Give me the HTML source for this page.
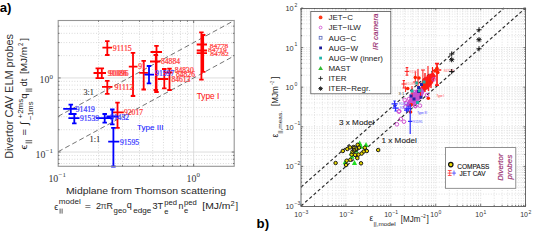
<!DOCTYPE html>
<html><head><meta charset="utf-8"><style>
html,body{margin:0;padding:0;background:#fff;width:533px;height:231px;overflow:hidden}
svg{position:absolute;left:0;top:0;font-family:"Liberation Sans",sans-serif}
</style></head><body>
<svg width="533" height="231" viewBox="0 0 533 231">
<rect width="533" height="231" fill="#fff"/>
<path d="M58.2,163.52H234.2M58.2,159.22H234.2M58.2,155.43H234.2M58.2,129.73H234.2M58.2,116.69H234.2M58.2,107.43H234.2M58.2,100.25H234.2M58.2,94.38H234.2M58.2,89.42H234.2M58.2,85.12H234.2M58.2,81.33H234.2M58.2,55.63H234.2M58.2,42.59H234.2M58.2,33.33H234.2M58.2,26.15H234.2M98.52,20.5V166.3M122.49,20.5V166.3M139.49,20.5V166.3M152.68,20.5V166.3M163.46,20.5V166.3M172.57,20.5V166.3M180.47,20.5V166.3M187.43,20.5V166.3" stroke="#c4c4c4" stroke-width="0.7" stroke-dasharray="0.9 1.8" fill="none"/>
<path d="M58.2,77.94H234.2M58.2,152.04H234.2M193.66,20.5V166.3" stroke="#d4d4d4" stroke-width="0.8" fill="none"/>
<path d="M58.20,151.68L234.20,55.87M58.20,116.33L234.20,20.52" stroke="#505050" stroke-width="0.8" stroke-dasharray="5 3" fill="none"/>
<path d="M107.3,41.2V55M102.4,47.7H112M105.05,41.2h4.5M105.05,55h4.5M97.8,68.3V78.2M93.5,73H104.7M95.55,68.3h4.5M95.55,78.2h4.5M101.8,68.3V78.2M96,73H106M99.55,68.3h4.5M99.55,78.2h4.5M107.3,80.8V93.8M102,86.8H112.5M105.05,80.8h4.5M105.05,93.8h4.5M133,52.8V96M128.8,66.6H137.5M130.75,52.8h4.5M130.75,96h4.5M143.7,60.8V89.5M139.2,72.9H147.9M141.45,60.8h4.5M141.45,89.5h4.5M156.5,45.9V92M150.5,52H162M154.25,45.9h4.5M154.25,92h4.5M155.8,55V90M150,61.5H160.4M153.55,55h4.5M153.55,90h4.5M164.3,69V88.4M157.8,79H168.2M162.05,69h4.5M162.05,88.4h4.5M169.5,68.6V90M165,72.5H172.7M167.25,68.6h4.5M167.25,90h4.5M201.4,32.3V79.7M196.7,44.5H207M199.15,32.3h4.5M199.15,79.7h4.5M203.2,35V71.9M196.7,50.5H207M200.95,35h4.5M200.95,71.9h4.5M196.7,53.1H207M117.5,102.6V127.9M112.3,112.3H123.8M115.25,102.6h4.5M115.25,127.9h4.5" stroke="#ff0000" stroke-width="1.8" fill="none"/>
<path d="M149,66V83.3M144.4,74.6H154M146.75,66h4.5M146.75,83.3h4.5M70.8,104.7V114M63.2,108.8H77M68.55,104.7h4.5M68.55,114h4.5M74.3,114V123.4M68.4,118.2H79.5M72.05,114h4.5M72.05,123.4h4.5M104.7,114V122.7M96,118.2H113.4M102.45,114h4.5M102.45,122.7h4.5M112.3,109.5V124.4M106.4,116.5H118.6M110.05,109.5h4.5M110.05,124.4h4.5M113.4,127.9V166.5M108.2,141.7H119.3M111.15,127.9h4.5M111.15,166.5h4.5" stroke="#0000ff" stroke-width="1.8" fill="none"/>
<text x="112.8" y="50.8" fill="#ff3a3a" font-family="Liberation Serif" font-size="7.5" textLength="19.0" lengthAdjust="spacingAndGlyphs" stroke="#ff3a3a" stroke-width="0.22">91115</text>
<text x="107.8" y="76.0" fill="#ff3a3a" font-family="Liberation Serif" font-size="7.5" textLength="19.0" lengthAdjust="spacingAndGlyphs" stroke="#ff3a3a" stroke-width="0.22">91086</text>
<text x="109.5" y="76.3" fill="#ff3a3a" font-family="Liberation Serif" font-size="7.5" textLength="19.0" lengthAdjust="spacingAndGlyphs" stroke="#ff3a3a" stroke-width="0.22">91096</text>
<text x="114.4" y="89.6" fill="#ff3a3a" font-family="Liberation Serif" font-size="7.5" textLength="19.0" lengthAdjust="spacingAndGlyphs" stroke="#ff3a3a" stroke-width="0.22">91112</text>
<text x="138.3" y="69.0" fill="#ff3a3a" font-family="Liberation Serif" font-size="7.5" textLength="7.6" lengthAdjust="spacingAndGlyphs" stroke="#ff3a3a" stroke-width="0.22">91</text>
<text x="161" y="63.8" fill="#ff3a3a" font-family="Liberation Serif" font-size="7.5" textLength="19.0" lengthAdjust="spacingAndGlyphs" stroke="#ff3a3a" stroke-width="0.22">84884</text>
<text x="174.7" y="73.2" fill="#ff3a3a" font-family="Liberation Serif" font-size="7.5" textLength="19.0" lengthAdjust="spacingAndGlyphs" stroke="#ff3a3a" stroke-width="0.22">84830</text>
<text x="176" y="76.8" fill="#ff3a3a" font-family="Liberation Serif" font-size="7.5" textLength="19.0" lengthAdjust="spacingAndGlyphs" stroke="#ff3a3a" stroke-width="0.22">84826</text>
<text x="171.4" y="82" fill="#ff3a3a" font-family="Liberation Serif" font-size="7.5" textLength="19.0" lengthAdjust="spacingAndGlyphs" stroke="#ff3a3a" stroke-width="0.22">84613</text>
<text x="209.8" y="47.5" fill="#ff3a3a" font-family="Liberation Serif" font-size="6.6" textLength="18.5" lengthAdjust="spacingAndGlyphs" stroke="#ff3a3a" stroke-width="0.22">84778</text>
<text x="207.9" y="51.8" fill="#ff3a3a" font-family="Liberation Serif" font-size="6.6" textLength="19" lengthAdjust="spacingAndGlyphs" stroke="#ff3a3a" stroke-width="0.22">84719</text>
<text x="210.2" y="56.1" fill="#ff3a3a" font-family="Liberation Serif" font-size="6.6" textLength="18.6" lengthAdjust="spacingAndGlyphs" stroke="#ff3a3a" stroke-width="0.22">84782</text>
<text x="124" y="114.5" fill="#ff3a3a" font-family="Liberation Serif" font-size="7.5" textLength="19.0" lengthAdjust="spacingAndGlyphs" stroke="#ff3a3a" stroke-width="0.22">92017</text>
<text x="155.2" y="76.4" fill="#3a3aff" font-family="Liberation Serif" font-size="7.5" textLength="19.0" lengthAdjust="spacingAndGlyphs" stroke="#3a3aff" stroke-width="0.22">91597</text>
<text x="75.8" y="111.6" fill="#3a3aff" font-family="Liberation Serif" font-size="7.5" textLength="19.0" lengthAdjust="spacingAndGlyphs" stroke="#3a3aff" stroke-width="0.22">91419</text>
<text x="80" y="121.2" fill="#3a3aff" font-family="Liberation Serif" font-size="7.5" textLength="19.0" lengthAdjust="spacingAndGlyphs" stroke="#3a3aff" stroke-width="0.22">91539</text>
<text x="110" y="120.0" fill="#3a3aff" font-family="Liberation Serif" font-size="7.5" textLength="19.0" lengthAdjust="spacingAndGlyphs" stroke="#3a3aff" stroke-width="0.22">91432</text>
<text x="120" y="144.6" fill="#3a3aff" font-family="Liberation Serif" font-size="7.5" textLength="19.0" lengthAdjust="spacingAndGlyphs" stroke="#3a3aff" stroke-width="0.22">91595</text>
<text x="83.5" y="95.1" fill="#1a1a1a" font-family="Liberation Serif" font-size="8.3" textLength="10.4" lengthAdjust="spacingAndGlyphs" stroke="#1a1a1a" stroke-width="0.05">3:1</text>
<text x="89.5" y="142.1" fill="#1a1a1a" font-family="Liberation Serif" font-size="8.3" textLength="10.8" lengthAdjust="spacingAndGlyphs" stroke="#1a1a1a" stroke-width="0.05">1:1</text>
<text x="196.7" y="99" fill="#ff2020" font-family="Liberation Sans" font-size="8.3" textLength="22.7" lengthAdjust="spacingAndGlyphs" stroke="#ff2020" stroke-width="0.08">Type I</text>
<text x="137.0" y="130.3" fill="#2020ff" font-family="Liberation Sans" font-size="8.1" textLength="26.6" lengthAdjust="spacingAndGlyphs" stroke="#2020ff" stroke-width="0.08">Type III</text>
<rect x="58.2" y="20.5" width="176.00" height="145.80" fill="none" stroke="#959595" stroke-width="1.1"/>
<path d="M58.2,152.04h2.5M234.2,152.04h-2.5M58.2,77.94h2.5M234.2,77.94h-2.5M193.66,166.3v-2.5M193.66,20.5v2.5M58.2,163.52h1.3M234.2,163.52h-1.3M58.2,159.22h1.3M234.2,159.22h-1.3M58.2,155.43h1.3M234.2,155.43h-1.3M58.2,129.73h1.3M234.2,129.73h-1.3M58.2,116.69h1.3M234.2,116.69h-1.3M58.2,107.43h1.3M234.2,107.43h-1.3M58.2,100.25h1.3M234.2,100.25h-1.3M58.2,94.38h1.3M234.2,94.38h-1.3M58.2,89.42h1.3M234.2,89.42h-1.3M58.2,85.12h1.3M234.2,85.12h-1.3M58.2,81.33h1.3M234.2,81.33h-1.3M58.2,55.63h1.3M234.2,55.63h-1.3M58.2,42.59h1.3M234.2,42.59h-1.3M58.2,33.33h1.3M234.2,33.33h-1.3M58.2,26.15h1.3M234.2,26.15h-1.3M98.52,166.3v-1.3M98.52,20.5v1.3M122.49,166.3v-1.3M122.49,20.5v1.3M139.49,166.3v-1.3M139.49,20.5v1.3M152.68,166.3v-1.3M152.68,20.5v1.3M163.46,166.3v-1.3M163.46,20.5v1.3M172.57,166.3v-1.3M172.57,20.5v1.3M180.47,166.3v-1.3M180.47,20.5v1.3M187.43,166.3v-1.3M187.43,20.5v1.3" stroke="#555" stroke-width="0.8" fill="none"/>
<text x="39.6" y="83.4" fill="#333" font-family="Liberation Serif" font-size="9.9">10</text>
<text x="49.6" y="79.2" fill="#333" font-family="Liberation Serif" font-size="6.9">0</text>
<text x="35.6" y="157.5" fill="#333" font-family="Liberation Serif" font-size="9.9">10</text>
<text x="45.6" y="153.0" fill="#333" font-family="Liberation Serif" font-size="6.9">−1</text>
<text x="48.4" y="181.8" fill="#333" font-family="Liberation Serif" font-size="9.9">10</text>
<text x="58.6" y="177.3" fill="#333" font-family="Liberation Serif" font-size="6.9">−1</text>
<text x="186.5" y="181.9" fill="#333" font-family="Liberation Serif" font-size="9.9">10</text>
<text x="196.4" y="177.2" fill="#333" font-family="Liberation Serif" font-size="6.9">0</text>
<text transform="translate(13.1,158.8) rotate(-90)" fill="#303030" font-family="Liberation Sans" font-size="10.2" textLength="124.8" lengthAdjust="spacingAndGlyphs">Divertor CAV ELM probes</text>
<g transform="translate(27,149.7) rotate(-90)"><text x="0" y="0" fill="#222" font-family="Liberation Sans" font-size="9.5" textLength="5.2" lengthAdjust="spacingAndGlyphs">ϵ</text><path d="M6.9,-1.5V5.2M9,-1.5V5.2" stroke="#333" stroke-width="0.8"/><text x="14.3" y="0" fill="#222" font-family="Liberation Sans" font-size="9.5" textLength="6.5" lengthAdjust="spacingAndGlyphs">=</text><text x="24.6" y="0.8" fill="#222" font-family="Liberation Sans" font-size="11">∫</text><text x="31.3" y="-3.9" fill="#222" font-family="Liberation Sans" font-size="7.5" textLength="19.5" lengthAdjust="spacingAndGlyphs">+2ms</text><text x="29.4" y="5.9" fill="#222" font-family="Liberation Sans" font-size="7.5" textLength="18.8" lengthAdjust="spacingAndGlyphs">−1ms</text><text x="51" y="0" fill="#222" font-family="Liberation Sans" font-size="9.5">q</text><path d="M58.6,-1.3V5.2M60.6,-1.3V5.2" stroke="#333" stroke-width="0.8"/><text x="63.3" y="0" fill="#222" font-family="Liberation Sans" font-size="9.5" textLength="7.8" lengthAdjust="spacingAndGlyphs">dt</text><text x="75.6" y="0" fill="#222" font-family="Liberation Sans" font-size="9.5" textLength="27.1" lengthAdjust="spacingAndGlyphs">[MJ/m</text><text x="103.7" y="-3.9" fill="#222" font-family="Liberation Sans" font-size="7" textLength="3.2" lengthAdjust="spacingAndGlyphs">2</text><text x="108.9" y="0" fill="#222" font-family="Liberation Sans" font-size="9.5">]</text></g>
<text x="65.9" y="193.8" fill="#2a2a2a" font-family="Liberation Sans" font-size="9.7" textLength="160.1" lengthAdjust="spacingAndGlyphs">Midplane from Thomson scattering</text>
<text x="54.3" y="209.6" fill="#222" font-family="Liberation Sans" font-size="9" textLength="3.9" lengthAdjust="spacingAndGlyphs">ϵ</text>
<text x="58.8" y="204.0" fill="#222" font-family="Liberation Sans" font-size="7.7" textLength="21.9" lengthAdjust="spacingAndGlyphs">model</text>
<path d="M60.1,208.6V213.6M62.1,208.6V213.6" stroke="#333" stroke-width="0.8"/>
<text x="84.7" y="208.8" fill="#222" font-family="Liberation Sans" font-size="9" textLength="6.2" lengthAdjust="spacingAndGlyphs">=</text>
<text x="95.9" y="208.8" fill="#222" font-family="Liberation Sans" font-size="9">2</text>
<text x="100.6" y="208.8" fill="#555" font-family="Liberation Sans" font-size="9">π</text>
<text x="106.6" y="208.8" fill="#222" font-family="Liberation Sans" font-size="9" textLength="6.4" lengthAdjust="spacingAndGlyphs">R</text>
<text x="113.6" y="213.3" fill="#222" font-family="Liberation Sans" font-size="7" textLength="13" lengthAdjust="spacingAndGlyphs">geo</text>
<text x="126.8" y="208.0" fill="#222" font-family="Liberation Sans" font-size="9">q</text>
<text x="133.3" y="213.3" fill="#222" font-family="Liberation Sans" font-size="7" textLength="18.1" lengthAdjust="spacingAndGlyphs">edge</text>
<text x="152.5" y="208.8" fill="#222" font-family="Liberation Sans" font-size="9" textLength="10.7" lengthAdjust="spacingAndGlyphs">3T</text>
<text x="164.3" y="204.5" fill="#222" font-family="Liberation Sans" font-size="7.5" textLength="12.7" lengthAdjust="spacingAndGlyphs">ped</text>
<text x="164.3" y="213.5" fill="#222" font-family="Liberation Sans" font-size="7.5">e</text>
<text x="178.4" y="209.0" fill="#222" font-family="Liberation Sans" font-size="9" textLength="4.9" lengthAdjust="spacingAndGlyphs">n</text>
<text x="184.0" y="204.5" fill="#222" font-family="Liberation Sans" font-size="7.5" textLength="12.7" lengthAdjust="spacingAndGlyphs">ped</text>
<text x="184.0" y="213.3" fill="#222" font-family="Liberation Sans" font-size="7.5">e</text>
<text x="202.3" y="209.0" fill="#222" font-family="Liberation Sans" font-size="9.2" textLength="28.2" lengthAdjust="spacingAndGlyphs">[MJ/m</text>
<text x="230.5" y="206.3" fill="#222" font-family="Liberation Sans" font-size="7" textLength="4.2" lengthAdjust="spacingAndGlyphs">2</text>
<text x="235.5" y="209.0" fill="#222" font-family="Liberation Sans" font-size="9.2">]</text>
<text x="-0.3" y="11.8" fill="#000" font-family="Liberation Sans" font-size="13.2" font-weight="bold">a)</text>
<text x="256.6" y="227.6" fill="#000" font-family="Liberation Sans" font-size="13.2" font-weight="bold">b)</text>
<path d="M301.0,194.08H525.6M314.52,8.0V206.0M301.0,187.11H525.6M322.43,8.0V206.0M301.0,182.16H525.6M328.04,8.0V206.0M301.0,178.32H525.6M332.40,8.0V206.0M301.0,175.19H525.6M335.95,8.0V206.0M301.0,172.53H525.6M338.96,8.0V206.0M301.0,170.24H525.6M341.57,8.0V206.0M301.0,168.21H525.6M343.86,8.0V206.0M301.0,154.48H525.6M359.44,8.0V206.0M301.0,147.51H525.6M367.35,8.0V206.0M301.0,142.56H525.6M372.96,8.0V206.0M301.0,138.72H525.6M377.32,8.0V206.0M301.0,135.59H525.6M380.87,8.0V206.0M301.0,132.93H525.6M383.88,8.0V206.0M301.0,130.64H525.6M386.49,8.0V206.0M301.0,128.61H525.6M388.78,8.0V206.0M301.0,114.88H525.6M404.36,8.0V206.0M301.0,107.91H525.6M412.27,8.0V206.0M301.0,102.96H525.6M417.88,8.0V206.0M301.0,99.12H525.6M422.24,8.0V206.0M301.0,95.99H525.6M425.79,8.0V206.0M301.0,93.33H525.6M428.80,8.0V206.0M301.0,91.04H525.6M431.41,8.0V206.0M301.0,89.01H525.6M433.70,8.0V206.0M301.0,75.28H525.6M449.28,8.0V206.0M301.0,68.31H525.6M457.19,8.0V206.0M301.0,63.36H525.6M462.80,8.0V206.0M301.0,59.52H525.6M467.16,8.0V206.0M301.0,56.39H525.6M470.71,8.0V206.0M301.0,53.73H525.6M473.72,8.0V206.0M301.0,51.44H525.6M476.33,8.0V206.0M301.0,49.41H525.6M478.62,8.0V206.0M301.0,35.68H525.6M494.20,8.0V206.0M301.0,28.71H525.6M502.11,8.0V206.0M301.0,23.76H525.6M507.72,8.0V206.0M301.0,19.92H525.6M512.08,8.0V206.0M301.0,16.79H525.6M515.63,8.0V206.0M301.0,14.13H525.6M518.64,8.0V206.0M301.0,11.84H525.6M521.25,8.0V206.0M301.0,9.81H525.6M523.54,8.0V206.0" stroke="#d6d6d6" stroke-width="0.7" stroke-dasharray="1 1.6" fill="none"/>
<path d="M301.0,166.40H525.6M345.92,8.0V206.0M301.0,126.80H525.6M390.84,8.0V206.0M301.0,87.20H525.6M435.76,8.0V206.0M301.0,47.60H525.6M480.68,8.0V206.0" stroke="#d0d0d0" stroke-width="0.7" stroke-dasharray="1 1.6" fill="none"/>
<path d="M301.0,206.0L525.6,8.0M301.0,187.11L504.17,8.0" stroke="#2a2a2a" stroke-width="1.15" stroke-dasharray="3.2 2.4" fill="none"/>
<text x="339" y="125" fill="#1e1e1e" font-family="Liberation Sans" font-size="8.1" textLength="35.3" lengthAdjust="spacingAndGlyphs" stroke="#1e1e1e" stroke-width="0.12">3 x Model</text>
<text x="381.5" y="143.3" fill="#1e1e1e" font-family="Liberation Sans" font-size="8.1" textLength="35.3" lengthAdjust="spacingAndGlyphs" stroke="#1e1e1e" stroke-width="0.12">1 x Model</text>
<path d="M359.7,140.60000000000002L362.3,145.60000000000002H357.09999999999997Z" fill="#22dd22"/>
<path d="M361,143.8L363.6,148.8H358.4Z" fill="#22dd22"/>
<path d="M366,141.9L368.6,146.9H363.4Z" fill="#22dd22"/>
<path d="M351.5,150.3L354.1,155.3H348.9Z" fill="#22dd22"/>
<path d="M352,153.8L354.6,158.8H349.4Z" fill="#22dd22"/>
<path d="M354.5,160.0L357.1,165.0H351.9Z" fill="#22dd22"/>
<path d="M345.2,159.3L347.8,164.3H342.59999999999997Z" fill="#22dd22"/>
<path d="M356,147.8L358.6,152.8H353.4Z" fill="#22dd22"/>
<circle cx="342.8" cy="151" r="1.75" fill="#e8d800" stroke="#111" stroke-width="0.95"/>
<circle cx="347.3" cy="149" r="1.75" fill="#e8d800" stroke="#111" stroke-width="0.95"/>
<circle cx="350" cy="147.4" r="1.75" fill="#e8d800" stroke="#111" stroke-width="0.95"/>
<circle cx="357.7" cy="144.8" r="1.75" fill="#e8d800" stroke="#111" stroke-width="0.95"/>
<circle cx="359" cy="147.7" r="1.75" fill="#e8d800" stroke="#111" stroke-width="0.95"/>
<circle cx="364.9" cy="147.7" r="1.75" fill="#e8d800" stroke="#111" stroke-width="0.95"/>
<circle cx="366.8" cy="151" r="1.75" fill="#e8d800" stroke="#111" stroke-width="0.95"/>
<circle cx="363.6" cy="151.6" r="1.75" fill="#e8d800" stroke="#111" stroke-width="0.95"/>
<circle cx="361.6" cy="153.6" r="1.75" fill="#e8d800" stroke="#111" stroke-width="0.95"/>
<circle cx="358.4" cy="154.6" r="1.75" fill="#e8d800" stroke="#111" stroke-width="0.95"/>
<circle cx="355.1" cy="154.9" r="1.75" fill="#e8d800" stroke="#111" stroke-width="0.95"/>
<circle cx="351.6" cy="154.6" r="1.75" fill="#e8d800" stroke="#111" stroke-width="0.95"/>
<circle cx="357.3" cy="158.1" r="1.75" fill="#e8d800" stroke="#111" stroke-width="0.95"/>
<circle cx="350.3" cy="159.8" r="1.75" fill="#e8d800" stroke="#111" stroke-width="0.95"/>
<circle cx="346.7" cy="160.7" r="1.75" fill="#e8d800" stroke="#111" stroke-width="0.95"/>
<circle cx="346" cy="165" r="1.75" fill="#e8d800" stroke="#111" stroke-width="0.95"/>
<circle cx="361" cy="163.3" r="1.75" fill="#e8d800" stroke="#111" stroke-width="0.95"/>
<circle cx="335.6" cy="163" r="1.75" fill="#e8d800" stroke="#111" stroke-width="0.95"/>
<circle cx="378.2" cy="150" r="1.75" fill="#e8d800" stroke="#111" stroke-width="0.95"/>
<circle cx="352.5" cy="151.6" r="1.75" fill="#e8d800" stroke="#111" stroke-width="0.95"/>
<circle cx="353.5" cy="147" r="1.75" fill="#e8d800" stroke="#111" stroke-width="0.95"/>
<circle cx="356.5" cy="149.5" r="1.75" fill="#e8d800" stroke="#111" stroke-width="0.95"/>
<circle cx="354" cy="150.5" r="1.75" fill="#e8d800" stroke="#111" stroke-width="0.95"/>
<circle cx="355" cy="148.6" r="2.6" fill="none" stroke="#222" stroke-width="1.1"/>
<path d="M406,106 L409,99 L413,93 L418,88 L423,86 L425,91 L421,99 L415,104 L410,108 Z" fill="#b03cc8" opacity="0.85"/>
<circle cx="409" cy="99" r="1.8" fill="none" stroke="#dd44cc" stroke-width="0.9"/>
<circle cx="412" cy="95" r="1.8" fill="none" stroke="#dd44cc" stroke-width="0.9"/>
<circle cx="415" cy="92" r="1.8" fill="none" stroke="#dd44cc" stroke-width="0.9"/>
<circle cx="409" cy="104" r="1.8" fill="none" stroke="#dd44cc" stroke-width="0.9"/>
<circle cx="413" cy="101" r="1.8" fill="none" stroke="#dd44cc" stroke-width="0.9"/>
<circle cx="418" cy="97" r="1.8" fill="none" stroke="#dd44cc" stroke-width="0.9"/>
<circle cx="421" cy="94" r="1.8" fill="none" stroke="#dd44cc" stroke-width="0.9"/>
<circle cx="406" cy="103" r="1.8" fill="none" stroke="#dd44cc" stroke-width="0.9"/>
<path d="M422,80 L427,76 L433,72 L436,76 L433,83 L428,89 L424,91 L421,87 Z" fill="#ff1a1a"/>
<path d="M418,69V86M428,66V80M432.5,67V80M412,86V97M420.5,88V99" stroke="#ff1a1a" stroke-width="1.1" fill="none"/>
<path d="M407,67.6V75.2M404.7,71.4H409.2M405.7,67.6h2.6M405.7,75.2h2.6M403.8,80.5V88M401.5,84H406.5M402.6,80.5h2.4M402.6,88h2.4M405.6,86.3V92M415.3,71.2V84.1M413,82h4.6M422.9,70V86.3M421,70h4" stroke="#ff1a1a" stroke-width="1.0" fill="none"/>
<path d="M425,73V92M428.5,75V91M431,74V88" stroke="#ff1a1a" stroke-width="1.4" fill="none"/>
<path d="M437,63.6V85.2M433.7,70H441.3M435,63.6h4M435,85.2h4" stroke="#ff1a1a" stroke-width="1.7" fill="none"/>
<circle cx="437" cy="68.5" r="1.8" fill="#ff2200"/>
<circle cx="437.8" cy="72.5" r="1.8" fill="#ff2200"/>
<circle cx="435" cy="71" r="1.8" fill="#ff2200"/>
<circle cx="426.1" cy="83" r="1.8" fill="#ff2200"/>
<circle cx="428.3" cy="98.2" r="1.8" fill="#ff2200"/>
<circle cx="407.7" cy="88.5" r="1.8" fill="#ff2200"/>
<circle cx="411.2" cy="104.7" r="1.8" fill="#ff2200"/>
<circle cx="410.5" cy="112" r="1.8" fill="#ff2200"/>
<circle cx="415.3" cy="77.5" r="1.8" fill="#ff2200"/>
<circle cx="430" cy="80" r="1.8" fill="#ff2200"/>
<circle cx="424" cy="86.5" r="1.8" fill="#ff2200"/>
<circle cx="419" cy="78" r="1.8" fill="#ff2200"/>
<circle cx="433.7" cy="79.4" r="1.8" fill="none" stroke="#cc44cc" stroke-width="0.9"/>
<circle cx="404.7" cy="99.9" r="1.8" fill="none" stroke="#cc44cc" stroke-width="0.9"/>
<circle cx="405.3" cy="106.9" r="1.8" fill="none" stroke="#cc44cc" stroke-width="0.9"/>
<circle cx="399.3" cy="111.2" r="1.8" fill="none" stroke="#cc44cc" stroke-width="0.9"/>
<circle cx="398.8" cy="111.6" r="1.8" fill="none" stroke="#cc44cc" stroke-width="0.9"/>
<circle cx="415" cy="105.7" r="1.8" fill="none" stroke="#cc44cc" stroke-width="0.9"/>
<circle cx="400.8" cy="119.1" r="1.8" fill="none" stroke="#cc44cc" stroke-width="0.9"/>
<circle cx="404" cy="121.7" r="1.8" fill="none" stroke="#cc44cc" stroke-width="0.9"/>
<circle cx="396.9" cy="124.3" r="1.8" fill="none" stroke="#cc44cc" stroke-width="0.9"/>
<circle cx="419.9" cy="105.7" r="1.8" fill="none" stroke="#cc44cc" stroke-width="0.9"/>
<circle cx="415.5" cy="106.2" r="1.8" fill="none" stroke="#cc44cc" stroke-width="0.9"/>
<circle cx="427" cy="95" r="1.8" fill="none" stroke="#cc44cc" stroke-width="0.9"/>
<rect x="417.1" y="86.0" width="3" height="3" fill="#2222a8"/>
<rect x="417.1" y="90.0" width="3" height="3" fill="#2222a8"/>
<rect x="409.5" y="94.5" width="3" height="3" fill="#2222a8"/>
<rect x="419.5" y="95.7" width="3" height="3" fill="#2222a8"/>
<rect x="420.0" y="83.0" width="3" height="3" fill="#2222a8"/>
<rect x="412.5" y="97.5" width="3" height="3" fill="#2222a8"/>
<rect x="414.9" y="81.5" width="3" height="3" fill="#20b0a0"/>
<rect x="422.5" y="80.5" width="3" height="3" fill="#20b0a0"/>
<rect x="418.1" y="89.1" width="3" height="3" fill="#20b0a0"/>
<rect x="416.0" y="101.0" width="3" height="3" fill="#20b0a0"/>
<rect x="410.5" y="89.5" width="3" height="3" fill="#20b0a0"/>
<path d="M394.6,101V106.6M391.5,103.8H397.7M393.35,101h2.5M393.35,106.6h2.5M395.6,105.5V111M392.5,108.2H398.7M394.35,105.5h2.5M394.35,111h2.5M410.2,104V134M408,121.3H412.4M405.3,108.6h6M408.2,105.5v6M404,110.2h5M406.5,107.5v5" stroke="#2a2aff" stroke-width="1.2" fill="none"/>
<text x="409.5" y="72.8" fill="#ff8080" font-family="Liberation Sans" font-size="3.6">91115</text>
<text x="405.8" y="85.2" fill="#ff8080" font-family="Liberation Sans" font-size="3.6">91086</text>
<text x="443.8" y="71.8" fill="#ff6060" font-family="Liberation Sans" font-size="3.6">84778</text>
<text x="436.5" y="97.4" fill="#ff3030" font-family="Liberation Sans" font-size="2.8">Type I</text>
<text x="417.2" y="114.3" fill="#3030ff" font-family="Liberation Sans" font-size="3">Type III</text>
<text x="413" y="122.5" fill="#5050ff" font-family="Liberation Sans" font-size="3.4">91595</text>
<text x="398.8" y="105.0" fill="#5050ff" font-family="Liberation Sans" font-size="3.4">91419</text>
<text x="399.8" y="109.4" fill="#5050ff" font-family="Liberation Sans" font-size="3.4">91539</text>
<text x="398.6" y="94.6" fill="#333" font-family="Liberation Sans" font-size="4">3:1</text>
<path d="M476.4,29.8h5.2M479,27.2v5.2M476.4,39.7h5.2M479,37.1v5.2M477.16154,37.861540000000005l3.67692,3.67692M477.16154,41.53846l3.67692,-3.67692M476.4,48.8h5.2M479,46.199999999999996v5.2M449.09999999999997,54h5.2M451.7,51.4v5.2M449.09999999999997,59.7h5.2M451.7,57.1v5.2M449.86154,57.861540000000005l3.67692,3.67692M449.86154,61.53846l3.67692,-3.67692M449.09999999999997,71.6h5.2M451.7,69.0v5.2" stroke="#111" stroke-width="1" fill="none"/>
<rect x="301" y="8.5" width="224.5" height="198" fill="none" stroke="#6a6a6a" stroke-width="1"/>
<path d="M301.0,206.00h2.2M525.6,206.00h-2.2M301.00,206.0v-2.2M301.00,8.0v2.2M301.0,166.40h2.2M525.6,166.40h-2.2M345.92,206.0v-2.2M345.92,8.0v2.2M301.0,126.80h2.2M525.6,126.80h-2.2M390.84,206.0v-2.2M390.84,8.0v2.2M301.0,87.20h2.2M525.6,87.20h-2.2M435.76,206.0v-2.2M435.76,8.0v2.2M301.0,47.60h2.2M525.6,47.60h-2.2M480.68,206.0v-2.2M480.68,8.0v2.2M301.0,8.00h2.2M525.6,8.00h-2.2M525.60,206.0v-2.2M525.60,8.0v2.2M301.0,194.08h1.2M525.6,194.08h-1.2M314.52,206.0v-1.2M314.52,8.0v1.2M301.0,187.11h1.2M525.6,187.11h-1.2M322.43,206.0v-1.2M322.43,8.0v1.2M301.0,182.16h1.2M525.6,182.16h-1.2M328.04,206.0v-1.2M328.04,8.0v1.2M301.0,178.32h1.2M525.6,178.32h-1.2M332.40,206.0v-1.2M332.40,8.0v1.2M301.0,175.19h1.2M525.6,175.19h-1.2M335.95,206.0v-1.2M335.95,8.0v1.2M301.0,172.53h1.2M525.6,172.53h-1.2M338.96,206.0v-1.2M338.96,8.0v1.2M301.0,170.24h1.2M525.6,170.24h-1.2M341.57,206.0v-1.2M341.57,8.0v1.2M301.0,168.21h1.2M525.6,168.21h-1.2M343.86,206.0v-1.2M343.86,8.0v1.2M301.0,154.48h1.2M525.6,154.48h-1.2M359.44,206.0v-1.2M359.44,8.0v1.2M301.0,147.51h1.2M525.6,147.51h-1.2M367.35,206.0v-1.2M367.35,8.0v1.2M301.0,142.56h1.2M525.6,142.56h-1.2M372.96,206.0v-1.2M372.96,8.0v1.2M301.0,138.72h1.2M525.6,138.72h-1.2M377.32,206.0v-1.2M377.32,8.0v1.2M301.0,135.59h1.2M525.6,135.59h-1.2M380.87,206.0v-1.2M380.87,8.0v1.2M301.0,132.93h1.2M525.6,132.93h-1.2M383.88,206.0v-1.2M383.88,8.0v1.2M301.0,130.64h1.2M525.6,130.64h-1.2M386.49,206.0v-1.2M386.49,8.0v1.2M301.0,128.61h1.2M525.6,128.61h-1.2M388.78,206.0v-1.2M388.78,8.0v1.2M301.0,114.88h1.2M525.6,114.88h-1.2M404.36,206.0v-1.2M404.36,8.0v1.2M301.0,107.91h1.2M525.6,107.91h-1.2M412.27,206.0v-1.2M412.27,8.0v1.2M301.0,102.96h1.2M525.6,102.96h-1.2M417.88,206.0v-1.2M417.88,8.0v1.2M301.0,99.12h1.2M525.6,99.12h-1.2M422.24,206.0v-1.2M422.24,8.0v1.2M301.0,95.99h1.2M525.6,95.99h-1.2M425.79,206.0v-1.2M425.79,8.0v1.2M301.0,93.33h1.2M525.6,93.33h-1.2M428.80,206.0v-1.2M428.80,8.0v1.2M301.0,91.04h1.2M525.6,91.04h-1.2M431.41,206.0v-1.2M431.41,8.0v1.2M301.0,89.01h1.2M525.6,89.01h-1.2M433.70,206.0v-1.2M433.70,8.0v1.2M301.0,75.28h1.2M525.6,75.28h-1.2M449.28,206.0v-1.2M449.28,8.0v1.2M301.0,68.31h1.2M525.6,68.31h-1.2M457.19,206.0v-1.2M457.19,8.0v1.2M301.0,63.36h1.2M525.6,63.36h-1.2M462.80,206.0v-1.2M462.80,8.0v1.2M301.0,59.52h1.2M525.6,59.52h-1.2M467.16,206.0v-1.2M467.16,8.0v1.2M301.0,56.39h1.2M525.6,56.39h-1.2M470.71,206.0v-1.2M470.71,8.0v1.2M301.0,53.73h1.2M525.6,53.73h-1.2M473.72,206.0v-1.2M473.72,8.0v1.2M301.0,51.44h1.2M525.6,51.44h-1.2M476.33,206.0v-1.2M476.33,8.0v1.2M301.0,49.41h1.2M525.6,49.41h-1.2M478.62,206.0v-1.2M478.62,8.0v1.2M301.0,35.68h1.2M525.6,35.68h-1.2M494.20,206.0v-1.2M494.20,8.0v1.2M301.0,28.71h1.2M525.6,28.71h-1.2M502.11,206.0v-1.2M502.11,8.0v1.2M301.0,23.76h1.2M525.6,23.76h-1.2M507.72,206.0v-1.2M507.72,8.0v1.2M301.0,19.92h1.2M525.6,19.92h-1.2M512.08,206.0v-1.2M512.08,8.0v1.2M301.0,16.79h1.2M525.6,16.79h-1.2M515.63,206.0v-1.2M515.63,8.0v1.2M301.0,14.13h1.2M525.6,14.13h-1.2M518.64,206.0v-1.2M518.64,8.0v1.2M301.0,11.84h1.2M525.6,11.84h-1.2M521.25,206.0v-1.2M521.25,8.0v1.2M301.0,9.81h1.2M525.6,9.81h-1.2M523.54,206.0v-1.2M523.54,8.0v1.2" stroke="#555" stroke-width="0.8" fill="none"/>
<text x="285.5" y="208.9" fill="#333" font-family="Liberation Sans" font-size="7.4">10</text>
<text x="294.6" y="204.6" fill="#333" font-family="Liberation Sans" font-size="5">−3</text>
<text x="285.5" y="169.3" fill="#333" font-family="Liberation Sans" font-size="7.4">10</text>
<text x="294.6" y="165.0" fill="#333" font-family="Liberation Sans" font-size="5">−2</text>
<text x="285.5" y="129.7" fill="#333" font-family="Liberation Sans" font-size="7.4">10</text>
<text x="294.6" y="125.4" fill="#333" font-family="Liberation Sans" font-size="5">−1</text>
<text x="285.5" y="90.1" fill="#333" font-family="Liberation Sans" font-size="7.4">10</text>
<text x="294.6" y="85.8" fill="#333" font-family="Liberation Sans" font-size="5">0</text>
<text x="285.5" y="50.5" fill="#333" font-family="Liberation Sans" font-size="7.4">10</text>
<text x="294.6" y="46.2" fill="#333" font-family="Liberation Sans" font-size="5">1</text>
<text x="285.5" y="10.9" fill="#333" font-family="Liberation Sans" font-size="7.4">10</text>
<text x="294.6" y="6.6" fill="#333" font-family="Liberation Sans" font-size="5">2</text>
<text x="294.35" y="217.3" fill="#333" font-family="Liberation Sans" font-size="7">10</text>
<text x="302.55" y="213.9" fill="#333" font-family="Liberation Sans" font-size="5">−3</text>
<text x="339.27000000000004" y="217.3" fill="#333" font-family="Liberation Sans" font-size="7">10</text>
<text x="347.47" y="213.9" fill="#333" font-family="Liberation Sans" font-size="5">−2</text>
<text x="384.19000000000005" y="217.3" fill="#333" font-family="Liberation Sans" font-size="7">10</text>
<text x="392.39000000000004" y="213.9" fill="#333" font-family="Liberation Sans" font-size="5">−1</text>
<text x="430.36" y="217.3" fill="#333" font-family="Liberation Sans" font-size="7">10</text>
<text x="438.56" y="213.9" fill="#333" font-family="Liberation Sans" font-size="5">0</text>
<text x="475.28000000000003" y="217.3" fill="#333" font-family="Liberation Sans" font-size="7">10</text>
<text x="483.48" y="213.9" fill="#333" font-family="Liberation Sans" font-size="5">1</text>
<text x="520.2" y="217.3" fill="#333" font-family="Liberation Sans" font-size="7">10</text>
<text x="528.4000000000001" y="213.9" fill="#333" font-family="Liberation Sans" font-size="5">2</text>
<g transform="translate(277.6,137.6) rotate(-90)" font-family="Liberation Sans" fill="#1a1a1a"><text x="0" y="0" font-size="8.2">ε</text><text x="3.8" y="3.9" font-size="6" textLength="22.8" lengthAdjust="spacingAndGlyphs">||,meas.</text><text x="31.6" y="0" font-size="8.4" textLength="19.6" lengthAdjust="spacingAndGlyphs">[MJm</text><text x="52.7" y="-3.6" font-size="5.8" textLength="3.9" lengthAdjust="spacingAndGlyphs">−2</text><text x="58.6" y="0" font-size="8.4">]</text></g>
<text x="369.5" y="221.4" fill="#1a1a1a" font-family="Liberation Sans" font-size="8.2">ε</text>
<text x="373.4" y="226.4" fill="#1a1a1a" font-family="Liberation Sans" font-size="6" textLength="22.4" lengthAdjust="spacingAndGlyphs">||,model</text>
<text x="400.8" y="221.5" fill="#1a1a1a" font-family="Liberation Sans" font-size="8.4" textLength="19.6" lengthAdjust="spacingAndGlyphs">[MJm</text>
<text x="420.8" y="218.0" fill="#1a1a1a" font-family="Liberation Sans" font-size="5.8" textLength="5" lengthAdjust="spacingAndGlyphs">−2</text>
<text x="426.6" y="221.5" fill="#1a1a1a" font-family="Liberation Sans" font-size="8.4">]</text>
<rect x="310.8" y="11.5" width="80" height="82.3" fill="#fff" stroke="#555" stroke-width="0.8"/>
<text x="328.4" y="20.2" fill="#222" font-family="Liberation Sans" font-size="8">JET−C</text>
<text x="328.4" y="30.37" fill="#222" font-family="Liberation Sans" font-size="8">JET−ILW</text>
<text x="328.4" y="40.54" fill="#222" font-family="Liberation Sans" font-size="8">AUG−C</text>
<text x="328.4" y="50.71" fill="#222" font-family="Liberation Sans" font-size="8">AUG−W</text>
<text x="328.4" y="60.88" fill="#222" font-family="Liberation Sans" font-size="8" textLength="54.6" lengthAdjust="spacingAndGlyphs">AUG−W (inner)</text>
<text x="328.4" y="71.05" fill="#222" font-family="Liberation Sans" font-size="8">MAST</text>
<text x="328.4" y="81.22" fill="#222" font-family="Liberation Sans" font-size="8">ITER</text>
<text x="328.4" y="91.39" fill="#222" font-family="Liberation Sans" font-size="8">ITER−Regr.</text>
<circle cx="320.6" cy="17.4" r="1.9" fill="#ff3a1a"/>
<circle cx="320.6" cy="27.57" r="1.4" fill="none" stroke="#cc44cc" stroke-width="0.8"/>
<rect x="319.2" y="36.339999999999996" width="2.8" height="2.8" fill="none" stroke="#5566bb" stroke-width="0.8"/>
<rect x="319.2" y="46.51" width="2.8" height="2.8" fill="#1a1a99"/>
<rect x="319.2" y="56.68" width="2.8" height="2.8" fill="#22b3aa"/>
<path d="M320.6,66.05l2.4,4h-4.8z" fill="#33bb33"/>
<path d="M318.40000000000003,78.41999999999999h4.4M320.6,76.21999999999998v4.4" stroke="#222" stroke-width="0.9"/>
<path d="M318.40000000000003,88.59h4.4M320.6,86.39v4.4M319.04438000000005,87.03438l3.11124,3.11124M319.04438000000005,90.14562000000001l3.11124,-3.11124" stroke="#222" stroke-width="1"/>
<text transform="translate(378.2,50) rotate(-90)" fill="#9a2f70" stroke="#9a2f70" stroke-width="0.15" font-family="Liberation Sans" font-style="italic" font-size="7.9" textLength="36.5" lengthAdjust="spacingAndGlyphs">IR camera</text>
<rect x="445.4" y="147.6" width="70.4" height="40.7" fill="#fff" stroke="#777" stroke-width="0.8"/>
<circle cx="450.8" cy="164.6" r="2.2" fill="#eedd00" stroke="#111" stroke-width="1.2"/>
<text x="457.3" y="168.6" fill="#111" font-family="Liberation Sans" font-size="6.6" textLength="32.1" lengthAdjust="spacingAndGlyphs" stroke="#111" stroke-width="0.12">COMPASS</text>
<path d="M449.7,170.5v5M447.5,173.1h4.4M447.8,170.5h3.8M447.8,175.5h3.8" stroke="#ff3030" stroke-width="0.8"/>
<path d="M454,170.5v5M452,173.1h4" stroke="#4040ff" stroke-width="0.8"/>
<text x="459.5" y="175.9" fill="#111" font-family="Liberation Sans" font-size="6.6" textLength="26" lengthAdjust="spacingAndGlyphs" stroke="#111" stroke-width="0.12">JET CAV</text>
<text transform="translate(503.3,180.7) rotate(-90)" fill="#9a2f70" stroke="#9a2f70" stroke-width="0.15" font-family="Liberation Sans" font-style="italic" font-size="7.7" textLength="27" lengthAdjust="spacingAndGlyphs">Divertor</text>
<text transform="translate(512.4,179.6) rotate(-90)" fill="#9a2f70" stroke="#9a2f70" stroke-width="0.15" font-family="Liberation Sans" font-style="italic" font-size="8.1" textLength="24.9" lengthAdjust="spacingAndGlyphs">probes</text>
</svg></body></html>
